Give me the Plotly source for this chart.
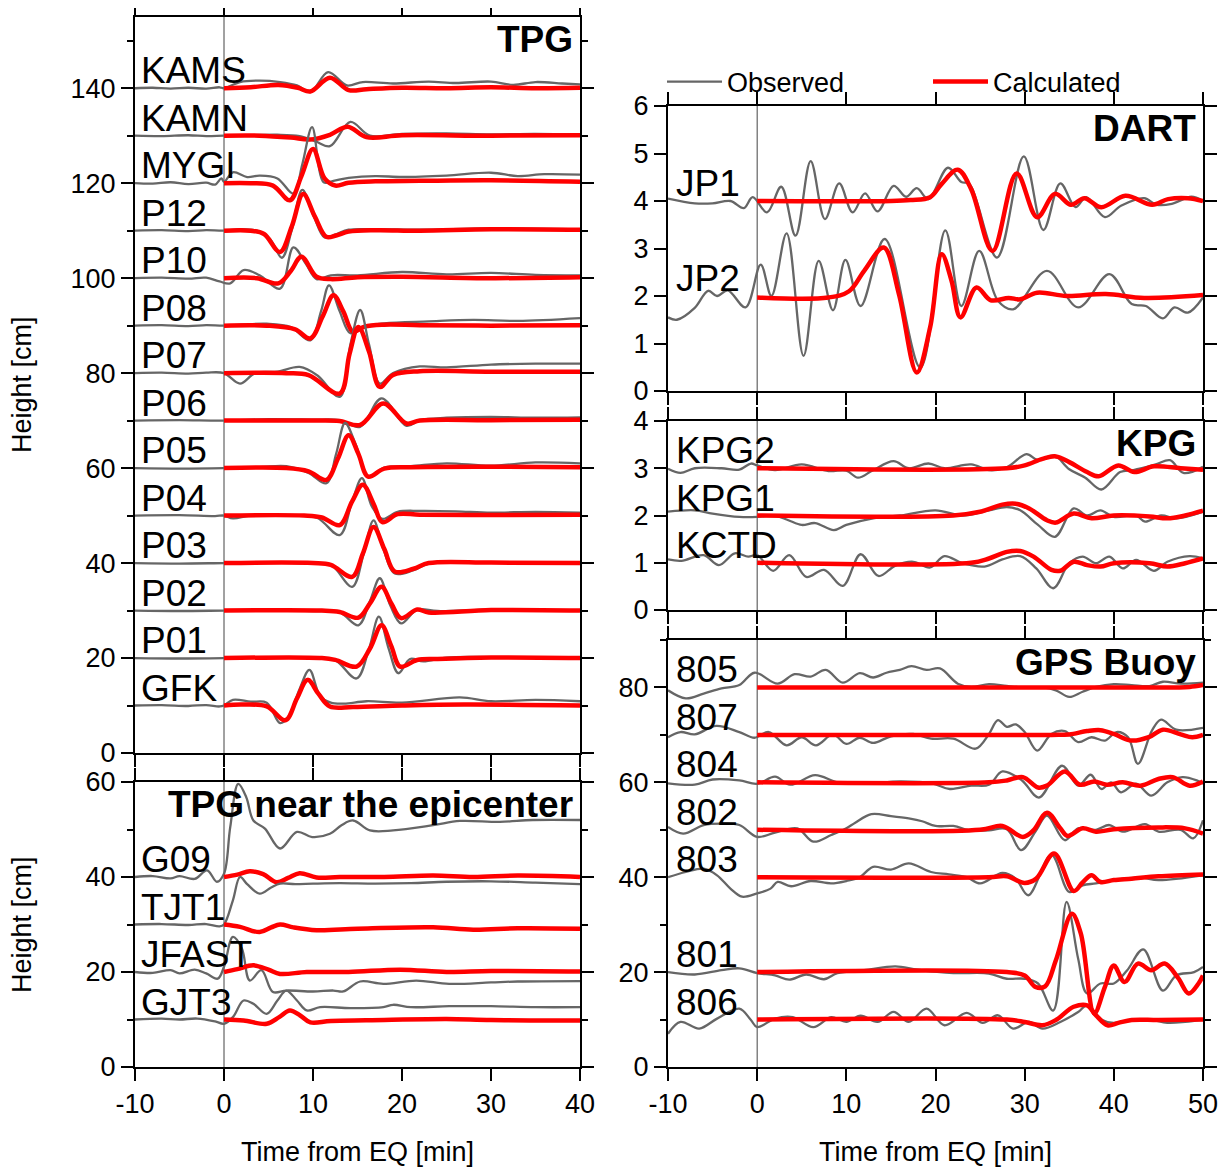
import plotly.graph_objects as go

W, H = 1230, 1171
OFF = 8                      # page body margin of the html page
FW, FH = W - OFF, H - OFF    # figure size so the page fills the window exactly
FONT = "Liberation Sans, Arial, Helvetica, sans-serif"
GRAY = "#666666"
RED = "#ff0000"

# ---------------- TPG (offshore pressure gauges) ----------------
KAMS_OBS = ([-10, -8, -6, -4, -2, -0.5, 0, 1.8, 4, 6.3, 8.2, 9.7, 11.7, 13.8, 15.6, 19, 23, 26, 30, 32.5, 35, 38, 40],
            [140, 140.1, 139.9, 140.1, 139.9, 140.2, 140, 141.3, 141.6, 141.3, 140.6, 139.2, 143.4, 140.6, 141.3, 141.0, 141.4, 141.1, 141.4, 140.7, 141.3, 141.0, 140.8])
KAMS_CAL = ([0, 3, 6.1, 8.3, 9.7, 11.9, 14.0, 16, 20, 25, 30, 35, 40],
            [140, 140.2, 140.7, 140.1, 139.3, 142.2, 139.6, 139.8, 140.1, 140.0, 140.2, 140.0, 140.1])
KAMN_OBS = ([-10, -7, -4, -2, 0, 3, 6, 8.5, 10.3, 11.9, 14.2, 16.4, 20, 25, 30, 35, 40],
            [130, 129.9, 130.1, 129.9, 130, 130.1, 130.2, 129.9, 128.8, 127.8, 132.9, 130.0, 130.4, 130.5, 130.3, 130.4, 130.2])
KAMN_CAL = ([0, 4, 7.5, 9.7, 11.9, 13.9, 16, 20, 30, 40],
            [130, 130, 129.6, 129.2, 130.2, 131.9, 129.7, 130.1, 130.0, 130.1])
MYGI_OBS = ([-10, -8, -6, -4, -2, -1, -0.3, 0, 1, 2.6, 4, 6, 7.8, 8.8, 9.9, 11.2, 12.3, 14, 17, 20, 25, 30, 33, 36, 40],
            [120, 119.9, 120.2, 119.8, 120.1, 119.7, 121, 120.3, 122.3, 121.3, 121.6, 121.0, 117.8, 124, 131.8, 120.2, 120.5, 121.1, 121.5, 121.3, 121.6, 122.2, 121.5, 121.9, 121.8])
MYGI_CAL = ([0, 3, 5.5, 7.4, 8.7, 10.0, 11.3, 12.5, 14, 17, 22, 30, 40],
            [120, 120, 119.5, 116.4, 121.5, 127.2, 121, 119.5, 120.1, 120.4, 120.5, 120.6, 120.3])
P12_OBS = ([-10, -7, -4, -2, 0, 2, 4, 5.2, 6.5, 7.6, 8.8, 10.1, 11.3, 12.5, 14, 17, 22, 30, 40],
           [110, 110.1, 109.9, 110.1, 110, 110.3, 109.8, 108.2, 104.3, 110, 118.6, 113, 108.6, 109.2, 110.2, 110.3, 110.2, 110.5, 110.3])
P12_CAL = ([0, 3, 4.5, 6.3, 7.6, 8.9, 10.2, 11.5, 12.6, 14, 17, 22, 30, 40],
           [110, 110, 109.3, 105.5, 110.8, 117.7, 113, 108.7, 109.0, 109.8, 110.1, 110.0, 110.3, 110.2])
P10_OBS = ([-10, -7, -4, -2, -0.5, 0.7, 2.2, 4, 6.3, 7.8, 9.2, 10.4, 12, 15, 20, 25, 30, 35, 40],
           [100, 100.1, 99.9, 100.1, 99.3, 98.9, 101.7, 100.6, 97.8, 106.5, 103.0, 99.8, 100.6, 100.6, 101.3, 100.8, 101.1, 100.7, 100.6])
P10_CAL = ([0, 3.7, 6.1, 7.5, 8.7, 10.4, 12, 15, 20, 30, 40],
           [100, 100, 98.9, 101.5, 104.5, 100.3, 99.8, 100.2, 100.3, 100.0, 100.2])
P08_OBS = ([-10, -7, -4, -2, 0, 2, 4.8, 7.5, 9.7, 10.9, 11.8, 13.0, 14.2, 15.6, 18, 23, 28, 33, 40],
           [90, 90.1, 89.9, 90.1, 90, 90.2, 90.4, 89.7, 86.9, 93, 98.5, 93, 88.4, 89.8, 90.5, 90.9, 91.2, 91.0, 91.6])
P08_CAL = ([0, 4.8, 8, 9.7, 11.1, 12.3, 13.4, 14.5, 15.8, 18, 22, 30, 40],
           [90, 90, 89.2, 87.3, 92, 96.4, 93, 88.7, 89.8, 90.2, 90.1, 90.0, 90.1])
P07_OBS = ([-10, -7, -4, -2, 0, 1.8, 3.5, 6, 8.5, 10.5, 13.0, 14.2, 15.3, 16.3, 17.5, 19, 22, 25, 30, 35, 40],
           [80, 80.1, 79.9, 80.1, 80, 77.8, 80, 80.3, 81.3, 79.5, 75.0, 86, 93.3, 86, 77.8, 80, 81.4, 81.2, 81.8, 82.0, 82.0])
P07_CAL = ([0, 7, 9.5, 13.0, 14.1, 15.1, 16.3, 17.5, 19, 22, 30, 40],
           [80, 80, 79.6, 75.7, 84, 89.7, 84.5, 77.1, 79.6, 80.4, 80.3, 80.3])
P06_OBS = ([-10, -5, 0, 5, 10, 13, 15.3, 17.7, 20.5, 22, 25, 30, 35, 40],
           [70, 70.1, 70, 70.3, 70.2, 70.1, 68.7, 74.7, 68.9, 70.1, 70.6, 70.8, 70.6, 70.7])
P06_CAL = ([0, 10, 13, 15.3, 17.9, 20.5, 22, 30, 40],
           [70, 70, 69.9, 69.1, 73.6, 69.4, 70.0, 70.1, 70.2])
P05_OBS = ([-10, -5, 0, 4, 7, 9.5, 11.5, 12.6, 13.6, 14.8, 16.2, 18, 21, 25, 30, 35, 40],
           [60, 59.9, 60, 60.2, 60.4, 59.0, 56.8, 63, 69.5, 65, 58.2, 60.1, 60.4, 61.0, 60.5, 61.2, 61.0])
P05_CAL = ([0, 7, 9.5, 11.5, 12.8, 14.0, 15.1, 16.2, 18, 21, 30, 40],
           [60, 60, 59.3, 57.5, 62, 66.9, 63, 58.2, 59.9, 60.2, 60.3, 60.2])
P04_OBS = ([-10, -5, -1, 0, 1, 3, 8, 10.5, 13, 14.4, 15.5, 16.6, 17.8, 19.5, 22, 26, 30, 35, 40],
           [50, 50.1, 49.9, 50, 49.4, 50, 50.1, 49.5, 45.9, 53, 57.9, 52, 49.3, 50.8, 51.0, 50.9, 50.6, 50.8, 50.6])
P04_CAL = ([0, 9, 11, 13, 14.4, 15.6, 16.8, 17.8, 19.5, 22, 30, 40],
           [50, 50, 49.6, 48.0, 53, 56.5, 52.5, 48.6, 50.3, 50.2, 50.1, 50.2])
P03_OBS = ([-10, -5, 0, 5, 10, 12, 14.4, 15.7, 16.8, 17.9, 19.2, 21.3, 23, 28, 35, 40],
           [40, 39.9, 40, 40.1, 39.9, 39.7, 35.0, 42, 49.0, 43, 37.8, 38.5, 39.9, 40.1, 40.2, 40.1])
P03_CAL = ([0, 10, 12, 14.4, 15.6, 16.8, 18, 19.2, 21.3, 23, 30, 40],
           [40, 40, 39.6, 37.1, 42, 47.6, 43, 38.2, 38.8, 40.0, 40.1, 40.0])
P02_OBS = ([-10, -5, 0, 5, 10, 13, 15.1, 16.4, 17.5, 18.7, 19.9, 21.7, 24, 30, 35, 40],
           [30, 29.9, 30, 30.1, 29.9, 29.6, 26.9, 32, 36.8, 31, 27.3, 30.2, 29.9, 30.2, 30.1, 30.0])
P02_CAL = ([0, 11, 13, 15.1, 16.4, 17.7, 18.8, 19.9, 21.7, 23, 30, 40],
           [30, 30, 29.7, 28.5, 31.5, 35.0, 31.5, 28.4, 30.2, 29.6, 30.1, 30.0])
P01_OBS = ([-10, -5, 0, 5, 10, 12.5, 14.9, 16.3, 17.4, 18.5, 19.6, 20.9, 22.4, 25, 30, 35, 40],
           [20, 19.9, 20, 20.2, 20, 19.5, 15.7, 22, 28.7, 22, 16.8, 19.8, 19.3, 20.1, 20.2, 20.1, 20.2])
P01_CAL = ([0, 11, 12.5, 14.9, 16.4, 17.7, 18.8, 19.8, 21.7, 24, 30, 40],
           [20, 20, 19.6, 18.2, 22, 26.9, 22.5, 18.2, 19.6, 19.8, 20.1, 20.0])
GFK_OBS = ([-10, -7, -4, -2, -0.5, 0, 1, 3, 4.8, 6.3, 7.2, 8.5, 9.6, 10.8, 12, 13.5, 16, 20, 26.5, 30, 35, 40],
           [10, 10.1, 9.9, 10.1, 9.8, 10, 11.2, 10.8, 10.6, 6.3, 7.5, 13.5, 17.5, 12, 10.6, 10.4, 10.9, 10.6, 11.7, 10.9, 11.2, 10.9])
GFK_CAL = ([0, 2, 4.8, 6.9, 8.2, 9.4, 10.6, 11.9, 14.5, 20, 27, 40],
           [10, 10.2, 9.8, 6.9, 11.5, 15.4, 12.5, 9.8, 9.7, 10.0, 10.2, 10.0])

TPG_NAMES = ["KAMS", "KAMN", "MYGI", "P12", "P10", "P08", "P07", "P06", "P05", "P04", "P03", "P02", "P01", "GFK"]
TPG_BASE = [140, 130, 120, 110, 100, 90, 80, 70, 60, 50, 40, 30, 20, 10]
TPG_OBS = [KAMS_OBS, KAMN_OBS, MYGI_OBS, P12_OBS, P10_OBS, P08_OBS, P07_OBS, P06_OBS, P05_OBS, P04_OBS, P03_OBS, P02_OBS, P01_OBS, GFK_OBS]
TPG_CAL = [KAMS_CAL, KAMN_CAL, MYGI_CAL, P12_CAL, P10_CAL, P08_CAL, P07_CAL, P06_CAL, P05_CAL, P04_CAL, P03_CAL, P02_CAL, P01_CAL, GFK_CAL]

# ---------------- TPG near the epicenter ----------------
G09_OBS = ([-10, -8, -6, -5, -3.3, -1.9, -0.8, 0, 0.7, 1.6, 2.5, 3.3, 4.6, 6.3, 8.2, 9.9, 11.9, 13.2, 14.5, 16.4, 19, 23.5, 26.5, 31, 34.7, 40],
           [40, 40.2, 39.7, 40.2, 39.6, 41.4, 39.0, 40.7, 50.5, 59.6, 56.8, 51.9, 50.2, 46.0, 49.5, 48.4, 49.1, 50.9, 51.9, 49.8, 49.8, 50.9, 51.8, 51.6, 52.0, 52.0])
G09_CAL = ([0, 1.5, 2.9, 4.4, 5.9, 7.2, 8.5, 10.4, 13, 18, 23.5, 28, 33, 40],
           [40, 40.5, 41.2, 40.6, 38.9, 39.8, 40.8, 39.9, 40.0, 40.0, 40.3, 40.0, 40.3, 40.0])
TJT1_OBS = ([-10, -7, -4, -2, -0.5, 0, 1.0, 1.8, 2.6, 4.0, 5.3, 6.3, 8, 10, 13, 17, 21, 25, 30, 35, 40],
            [30, 30.1, 29.9, 30.1, 29.6, 30, 35.1, 40.0, 38.5, 36.5, 37.8, 38.6, 38.5, 38.6, 38.7, 38.6, 38.7, 39.0, 39.1, 38.8, 38.5])
TJT1_CAL = ([0, 1.8, 4.0, 5.3, 6.3, 7.8, 10.4, 15, 23.5, 28, 33, 40],
            [30, 29.5, 28.4, 29.4, 30.0, 29.4, 28.8, 29.1, 29.4, 28.9, 29.2, 29.1])
JFAST_OBS = ([-10, -8, -6, -5, -3.3, -2, -0.7, 0, 1.0, 2.0, 2.9, 4.2, 5.5, 7.0, 10, 12.3, 13.4, 15.3, 17.9, 21.6, 25.3, 30, 33, 40],
             [20, 19.8, 20.4, 19.7, 20.5, 19.7, 18.6, 21.1, 27.4, 25, 18.2, 20.4, 15.8, 16.1, 15.9, 16.1, 15.9, 18.0, 17.5, 18.2, 17.5, 17.8, 18.0, 18.1])
JFAST_CAL = ([0, 1.5, 3.3, 5, 6.3, 9.3, 14, 19.8, 25, 30, 40],
             [20, 20.6, 21.4, 20.5, 19.6, 20.0, 20.0, 20.5, 20.0, 20.2, 20.1])
GJT3_OBS = ([-10, -7, -5, -3, -1, 0, 1, 2.2, 3.3, 4.8, 6.0, 7.0, 8.2, 9.3, 10.8, 14.2, 17.9, 19, 21, 25.3, 30, 35, 40],
            [10, 10.2, 10.0, 10.2, 9.6, 9.1, 10.5, 14.0, 13.3, 11.2, 14.0, 16.1, 14.0, 11.9, 12.6, 12.4, 12.6, 13.1, 12.6, 12.8, 12.8, 12.6, 12.6])
GJT3_CAL = ([0, 2.2, 4.8, 6.2, 7.4, 8.6, 9.7, 12, 18, 25, 30, 40],
            [10, 9.8, 9.1, 10.5, 11.9, 10.8, 9.4, 9.7, 9.9, 10.1, 9.9, 9.8])

EPI_NAMES = ["G09", "TJT1", "JFAST", "GJT3"]
EPI_BASE = [40, 30, 20, 10]
EPI_OBS = [G09_OBS, TJT1_OBS, JFAST_OBS, GJT3_OBS]
EPI_CAL = [G09_CAL, TJT1_CAL, JFAST_CAL, GJT3_CAL]

# ---------------- DART ----------------
JP1_OBS = ([-10, -7, -5, -3, -1.5, -0.5, 1.1, 2.7, 4.3, 6.0, 7.6, 9.2, 10.7, 12.1, 13.5, 15.3, 16.7, 17.9, 19.2, 21.4, 22.9, 23.8, 26.9, 29.9, 32.1, 34.0, 35.7, 36.9, 39.0, 40.8, 43.4, 44.8, 46.5, 48.7, 50],
           [4.05, 3.95, 3.95, 4.0, 3.85, 4.08, 3.76, 4.30, 3.27, 4.84, 3.62, 4.37, 3.76, 4.16, 3.78, 4.32, 4.09, 4.27, 4.04, 4.70, 4.40, 4.36, 2.81, 4.94, 3.39, 4.37, 3.87, 4.08, 3.66, 3.90, 4.06, 3.92, 3.94, 4.09, 4.0])
JP1_CAL = ([0, 15, 17.2, 19.4, 20.7, 22.5, 24.0, 26.4, 29.1, 31.4, 33.4, 35.2, 36.7, 38.6, 41.3, 44.3, 46.1, 48.3, 50],
           [4.0, 4.0, 4.02, 4.08, 4.36, 4.66, 4.25, 2.95, 4.58, 3.66, 4.15, 3.92, 4.06, 3.87, 4.11, 3.92, 4.04, 4.06, 4.0])
JP2_OBS = ([-10, -9, -7, -5.5, -4.5, -3.3, -1.3, 0.4, 1.6, 3.3, 5.2, 6.9, 8.5, 9.9, 11.6, 14.3, 18.3, 21.1, 22.9, 24.9, 27.0, 28.7, 32.5, 36.0, 39.5, 42.0, 43.6, 45.5, 46.8, 48.3, 50],
           [1.55, 1.5, 1.75, 2.11, 2.0, 2.12, 1.76, 2.66, 2.0, 3.32, 0.74, 2.74, 1.70, 2.76, 1.79, 3.20, 0.49, 3.38, 1.79, 2.95, 1.90, 1.72, 2.53, 1.76, 2.46, 1.83, 1.79, 1.53, 1.76, 1.65, 1.97])
JP2_CAL = ([0, 8, 10.3, 12.0, 14.2, 15.9, 17.9, 19.4, 20.7, 21.8, 22.8, 24.6, 26.2, 28.2, 29.5, 31.4, 34.7, 39.1, 43.4, 50],
           [1.97, 1.97, 2.1, 2.53, 3.02, 2.04, 0.39, 1.34, 2.88, 2.32, 1.55, 2.18, 1.91, 1.96, 1.93, 2.07, 2.0, 2.04, 1.96, 2.02])

DART_NAMES = ["JP1", "JP2"]
DART_BASE = [4, 2]
DART_OBS = [JP1_OBS, JP2_OBS]
DART_CAL = [JP1_CAL, JP2_CAL]

# ---------------- KPG ----------------
KPG2_OBS = ([-10, -8.6, -7, -4, -2, -0.7, 0, 2, 5, 8, 10, 11.3, 13, 15.3, 17, 19.2, 21, 24, 26, 28, 30.2, 31.5, 33.3, 35, 36.8, 38.6, 40.7, 42.2, 44.7, 46.3, 47.8, 50],
            [2.99, 2.90, 3.0, 3.0, 2.97, 3.1, 3.06, 2.96, 3.08, 2.94, 2.95, 2.80, 2.96, 3.15, 3.0, 3.10, 3.0, 3.08, 2.96, 3.02, 3.30, 3.17, 3.27, 2.98, 2.80, 2.55, 2.92, 2.96, 3.08, 3.17, 2.90, 3.03])
KPG2_CAL = ([0, 28, 30, 32, 33.5, 35, 37, 38.3, 40.5, 42.3, 44.5, 47.5, 50],
            [3.0, 3.0, 3.06, 3.20, 3.25, 3.13, 2.92, 2.83, 3.06, 2.92, 3.04, 3.0, 2.97])
KPG1_OBS = ([-10, -7, -5, -2, 0, 2, 3.5, 5, 6.5, 8.6, 10, 13, 16, 20, 23, 26, 28, 29.5, 31.5, 33.4, 35.5, 37, 38.5, 40, 42.5, 43.5, 45.3, 47, 50],
            [2.08, 2.11, 2.04, 1.97, 1.97, 2.0, 1.90, 1.80, 1.84, 1.69, 1.80, 1.94, 2.0, 2.11, 2.0, 2.11, 2.18, 2.11, 1.80, 1.55, 2.15, 2.0, 2.11, 1.97, 2.0, 1.87, 2.0, 1.94, 2.08])
KPG1_CAL = ([0, 22, 25, 27.5, 29, 30.5, 32.5, 33.5, 35.5, 37.5, 40, 44, 46, 48, 50],
            [2.0, 2.0, 2.08, 2.23, 2.25, 2.15, 1.90, 1.85, 2.04, 1.94, 2.0, 1.98, 1.94, 2.0, 2.1])
KCTD_OBS = ([-10, -8.5, -6, -4.3, -2.5, -1, 0, 1.8, 3.6, 5.5, 7.5, 9.6, 11.6, 13.6, 15.5, 17.5, 19.4, 21, 23, 25.5, 27.5, 29.5, 31.3, 33.2, 35, 36.5, 38, 39.5, 41, 42.5, 44.5, 46, 48.5, 50],
            [1.07, 1.04, 1.16, 0.95, 1.20, 1.13, 1.16, 0.83, 1.16, 0.70, 0.85, 0.51, 1.18, 0.72, 0.94, 1.02, 0.90, 1.14, 0.99, 0.92, 1.07, 1.14, 0.88, 0.46, 0.99, 1.13, 0.99, 1.13, 0.88, 1.06, 0.83, 1.02, 1.14, 1.09])
KCTD_CAL = ([0, 24, 26, 28, 29.5, 31, 33, 34, 35.5, 37, 38.5, 40, 44, 46, 48, 50],
            [1.0, 1.0, 1.09, 1.23, 1.25, 1.13, 0.85, 0.83, 1.02, 0.95, 0.92, 0.99, 0.99, 0.92, 0.99, 1.09])

KPG_NAMES = ["KPG2", "KPG1", "KCTD"]
KPG_BASE = [3, 2, 1]
KPG_OBS = [KPG2_OBS, KPG1_OBS, KCTD_OBS]
KPG_CAL = [KPG2_CAL, KPG1_CAL, KCTD_CAL]

# ---------------- GPS Buoy ----------------
B805_OBS = ([-10, -8, -6, -4, -2, -0.3, 2.3, 4.2, 6, 7.7, 9.6, 11.5, 13, 14.5, 16, 17.3, 19, 20.5, 22.5, 24, 26, 28, 30, 32, 33.5, 35, 36.5, 38, 40, 42, 44, 45.5, 47.5, 50],
            [79.4, 77.7, 78.7, 79.8, 80.5, 83.1, 80.8, 82.8, 82.3, 83.7, 81.0, 83.0, 82.1, 83.1, 83.7, 84.5, 83.7, 84.0, 80.8, 80.1, 80.7, 80.3, 80.0, 80.0, 79.4, 78.0, 79.1, 80.1, 80.7, 80.5, 80.3, 81.2, 80.8, 81.0])
B805_CAL = ([0, 20, 40, 47, 48.5, 50], [80, 80, 80, 80, 80.1, 80.5])
B807_OBS = ([-10, -8.6, -7, -4.6, -2, -0.3, 1.3, 3.3, 5, 6.6, 8.5, 10, 11.5, 13, 15, 17.5, 19.5, 22, 24.5, 26, 27, 28, 29, 30, 31.4, 33, 34.5, 36, 37.5, 39, 40.3, 41.6, 42.7, 44.3, 45.3, 47, 50],
            [69.5, 70.6, 70.1, 71.9, 70.6, 69.4, 70.6, 67.8, 69.5, 67.8, 70.1, 68.1, 69.4, 68.3, 69.7, 70.2, 69.2, 69.2, 67.1, 70.2, 73.1, 71.7, 72.2, 70.6, 66.7, 70.2, 70.8, 68.5, 69.5, 68.8, 70.6, 69.5, 63.9, 71.0, 73.2, 71.1, 71.5])
B807_CAL = ([0, 33, 35, 37, 38.5, 40, 42, 44, 45.5, 47.5, 48.8, 50],
            [70, 70, 70.1, 70.8, 71.0, 70.2, 68.8, 69.6, 71.1, 70.1, 69.5, 70.0])
B804_OBS = ([-10, -7, -5, -2, 0, 2, 3.7, 6.5, 9, 12, 16, 19.6, 21.6, 24, 26, 27.5, 29.7, 31.6, 34.2, 36, 37.4, 38.6, 39.7, 40.8, 42.5, 44.2, 46, 47.7, 49.3, 50],
            [59.8, 59.5, 60.6, 60.4, 59.7, 61.2, 59.5, 61.5, 60.0, 59.7, 60.2, 59.8, 58.6, 59.3, 59.5, 62.3, 60.4, 56.8, 63.5, 59.3, 61.6, 58.6, 60.0, 57.9, 59.7, 57.2, 60.0, 61.1, 60.4, 59.7])
B804_CAL = ([0, 26, 28, 29.8, 31.5, 32.5, 34.5, 36.2, 37.8, 39.2, 41, 43, 45, 46.6, 48.5, 50],
            [60, 60, 60.4, 61.1, 58.9, 59.3, 62.3, 59.5, 60.2, 59.5, 60.0, 59.3, 60.7, 61.1, 59.3, 60.2])
B802_OBS = ([-10, -8.3, -6, -4, -2, 0, 2, 4.5, 6.3, 8.3, 10, 11, 12.8, 15, 17, 18.5, 20, 22, 24, 26, 28, 29.6, 31.3, 32.5, 34.5, 36, 38, 39.5, 41, 43.5, 45, 47.5, 48.9, 50],
            [50.6, 49.2, 51.0, 51.3, 51.0, 48.5, 49.4, 50.3, 47.5, 48.9, 50.3, 51.5, 53.3, 52.9, 52.4, 51.8, 50.8, 50.8, 49.8, 49.9, 50.1, 45.7, 49.9, 53.0, 47.8, 50.3, 50.0, 51.0, 49.6, 51.2, 49.6, 50.0, 48.2, 52.0])
B802_CAL = ([0, 25, 27.5, 29.8, 31, 32.5, 34, 34.8, 36.5, 38, 40, 45, 48, 50],
            [50, 50, 50.8, 48.5, 49.9, 53.6, 50.3, 48.7, 50.3, 49.6, 50.1, 50.5, 50.3, 49.2])
B803_OBS = ([-10, -8, -6, -4.5, -3, -1.7, 0, 1.5, 2.3, 3.8, 6, 8.3, 10, 11.5, 13, 15, 17, 19.5, 21.5, 23.5, 25, 27.5, 29, 30.4, 33, 35, 36.5, 38, 40, 43, 45, 50],
            [40.0, 41.1, 41.8, 40.4, 37.6, 35.9, 36.6, 37.6, 39.0, 38.1, 39.2, 38.7, 39.2, 40.0, 42.2, 41.6, 42.9, 41.1, 40.6, 40.0, 38.7, 40.9, 39.7, 36.2, 44.7, 36.9, 38.3, 38.7, 39.4, 39.9, 39.4, 40.4])
B803_CAL = ([0, 26, 28, 30, 31.3, 33.3, 35.5, 36.5, 37.5, 38.5, 40, 42, 45, 50],
            [40, 40, 40.2, 38.8, 39.7, 45.0, 37.1, 38.9, 40.4, 39.0, 39.4, 39.7, 40.2, 40.6])
B801_OBS = ([-10, -7, -4, -2, 0, 2, 3.6, 5.5, 7.5, 9, 12, 15.5, 18, 22, 26, 28, 30, 31.5, 33.2, 34.7, 36, 37, 38.5, 40, 41.5, 43.3, 45.5, 47, 49, 50],
            [20, 19.5, 20.4, 20.8, 19.8, 19.3, 18.4, 19.5, 18.5, 19.8, 20.4, 21.2, 20.5, 19.8, 19.7, 18.6, 18.6, 17.6, 11.9, 34.8, 22.8, 15.5, 17.6, 17.6, 20.4, 24.8, 16.1, 19.3, 20.0, 21.1])
B801_CAL = ([0, 28, 30, 31.2, 32.3, 33.5, 35.3, 36.3, 37.8, 39, 40, 41.2, 42.7, 44.2, 45.7, 47.2, 48.4, 49.5, 50],
            [20, 20, 19.3, 16.9, 17.0, 22.5, 32.3, 28.1, 11.3, 16.9, 21.4, 17.9, 21.8, 20.4, 21.8, 18.8, 15.5, 17.6, 19.3])
B806_OBS = ([-10, -8.6, -6.5, -4.5, -2, -0.7, 0, 2, 4, 6.3, 8.3, 10, 11.6, 13.5, 15.3, 17, 19, 21, 23.5, 25.3, 27, 28.7, 30.5, 32, 34, 36, 37, 38.7, 40, 42, 44, 46, 48, 50],
            [7.0, 9.5, 8.1, 10.2, 12.3, 9.9, 8.4, 10.2, 10.5, 8.4, 10.5, 9.5, 10.8, 9.5, 11.6, 9.5, 12.3, 8.8, 11.4, 9.3, 10.9, 8.1, 9.5, 8.1, 9.5, 11.6, 13.0, 9.9, 9.3, 9.9, 10.0, 9.3, 9.5, 10.0])
B806_CAL = ([0, 28, 30, 32, 33.5, 35.5, 37, 38, 39.3, 40.5, 42, 45, 50],
            [10, 10, 9.5, 8.8, 9.9, 12.7, 13.0, 10.9, 8.8, 9.3, 9.9, 9.9, 10.0])

GPS_NAMES = ["805", "807", "804", "802", "803", "801", "806"]
GPS_BASE = [80, 70, 60, 50, 40, 20, 10]
GPS_OBS = [B805_OBS, B807_OBS, B804_OBS, B802_OBS, B803_OBS, B801_OBS, B806_OBS]
GPS_CAL = [B805_CAL, B807_CAL, B804_CAL, B802_CAL, B803_CAL, B801_CAL, B806_CAL]

X_TICKS_L = [-10, 0, 10, 20, 30, 40]
X_LABELS_L = ["-10", "0", "10", "20", "30", "40"]
X_TICKS_R = [-10, 0, 10, 20, 30, 40, 50]
X_LABELS_R = ["-10", "0", "10", "20", "30", "40", "50"]


# ---------------- layout helpers (window pixels -> paper fractions) ----------------
def px(xp):
    return (xp - OFF) / FW


def py(yp):
    return 1 - (yp - OFF) / FH


def xdom(a, b):
    return [px(a), px(b)]


def ydom(top, bottom):
    return [py(bottom), py(top)]


PANELS = [
    dict(n=1, xd=xdom(135, 580), yd=ydom(17, 753), xr=[-10, 40], xt=X_TICKS_L, xl=X_LABELS_L, yr=[0, 155],
         yt=list(range(0, 141, 20)), minor=10, xlab=False, title="TPG",
         names=TPG_NAMES, base=TPG_BASE, obs=TPG_OBS, cal=TPG_CAL, lx=-9.5),
    dict(n=2, xd=xdom(135, 580), yd=ydom(782, 1067), xr=[-10, 40], xt=X_TICKS_L, xl=X_LABELS_L, yr=[0, 60],
         yt=[0, 20, 40, 60], minor=10, xlab=True, title="TPG near the epicenter",
         names=EPI_NAMES, base=EPI_BASE, obs=EPI_OBS, cal=EPI_CAL, lx=-9.5),
    dict(n=3, xd=xdom(668, 1203), yd=ydom(106, 391), xr=[-10, 50], xt=X_TICKS_R, xl=X_LABELS_R, yr=[0, 6],
         yt=[0, 1, 2, 3, 4, 5, 6], minor=None, xlab=False, title="DART",
         names=DART_NAMES, base=DART_BASE, obs=DART_OBS, cal=DART_CAL, lx=-9.35),
    dict(n=4, xd=xdom(668, 1203), yd=ydom(421, 610), xr=[-10, 50], xt=X_TICKS_R, xl=X_LABELS_R, yr=[0, 4],
         yt=[0, 1, 2, 3, 4], minor=None, xlab=False, title="KPG",
         names=KPG_NAMES, base=KPG_BASE, obs=KPG_OBS, cal=KPG_CAL, lx=-9.35),
    dict(n=5, xd=xdom(668, 1203), yd=ydom(640, 1067), xr=[-10, 50], xt=X_TICKS_R, xl=X_LABELS_R, yr=[0, 90],
         yt=[0, 20, 40, 60, 80], minor=10, xlab=True, title="GPS Buoy",
         names=GPS_NAMES, base=GPS_BASE, obs=GPS_OBS, cal=GPS_CAL, lx=-9.35),
]

fig = go.Figure()
layout = dict(
    width=FW, height=FH, margin=dict(l=0, r=0, t=0, b=0, autoexpand=False),
    paper_bgcolor="white", plot_bgcolor="white",
    font=dict(family=FONT, size=27, color="black"),
    showlegend=True,
    legend=dict(orientation="h", x=px(662), xanchor="left", y=py(82), yanchor="middle",
                font=dict(size=27, family=FONT), entrywidth=196, entrywidthmode="pixels",
                itemwidth=55, bgcolor="rgba(0,0,0,0)", borderwidth=0, traceorder="normal"),
)
annotations = []
shapes = []
legend_done = {"obs": False, "cal": False}

for p in PANELS:
    n = p["n"]
    sfx = "" if n == 1 else str(n)
    xa, ya = "x" + sfx, "y" + sfx
    axis_common = dict(showline=True, linewidth=2, linecolor="black", mirror="ticks",
                       ticks="outside", ticklen=12, tickwidth=2, tickcolor="black",
                       showgrid=False, zeroline=False, automargin=False,
                       tickfont=dict(size=27, family=FONT, color="black"))
    layout["xaxis" + sfx] = dict(axis_common, domain=p["xd"], range=p["xr"], anchor=ya,
                                 tickmode="array", tickvals=p["xt"], ticktext=p["xl"],
                                 showticklabels=p["xlab"])
    ymore = dict(axis_common, domain=p["yd"], range=p["yr"], anchor=xa,
                 tickmode="array", tickvals=p["yt"])
    if p["minor"]:
        ymore["minor"] = dict(dtick=p["minor"], tick0=0, ticks="outside", ticklen=6,
                              tickwidth=2, tickcolor="black", showgrid=False)
    layout["yaxis" + sfx] = ymore

    # zero-time line
    shapes.append(dict(type="line", xref=xa, yref=ya + " domain", x0=0, x1=0, y0=0, y1=1,
                       line=dict(color="#444444", width=1), layer="below"))

    for name, b, o, c in zip(p["names"], p["base"], p["obs"], p["cal"]):
        fig.add_trace(go.Scatter(x=o[0], y=o[1], xaxis=xa, yaxis=ya, mode="lines",
                                 line=dict(color=GRAY, width=2.3, shape="spline", smoothing=1.0),
                                 name="Observed", showlegend=not legend_done["obs"],
                                 hoverinfo="skip"))
        legend_done["obs"] = True
        fig.add_trace(go.Scatter(x=c[0], y=c[1], xaxis=xa, yaxis=ya, mode="lines",
                                 line=dict(color=RED, width=4.5, shape="spline", smoothing=1.0),
                                 name="Calculated", showlegend=not legend_done["cal"],
                                 hoverinfo="skip"))
        legend_done["cal"] = True
        annotations.append(dict(x=p["lx"], y=b, xref=xa, yref=ya, text=name, showarrow=False,
                                xanchor="left", yanchor="bottom", yshift=-5,
                                font=dict(size=37, family=FONT, color="black")))

    annotations.append(dict(x=1, y=1, xref=xa + " domain", yref=ya + " domain",
                            text="<b>" + p["title"] + "</b>", showarrow=False,
                            xanchor="right", yanchor="top", xshift=-5, yshift=0,
                            font=dict(size=37, family=FONT, color="black")))

# axis titles
for yc in (385, 925):
    annotations.append(dict(x=px(22), y=py(yc), xref="paper", yref="paper", text="Height [cm]",
                            textangle=-90, showarrow=False, xanchor="center", yanchor="middle",
                            font=dict(size=27, family=FONT)))
for xc in (357, 935):
    annotations.append(dict(x=px(xc), y=py(1152), xref="paper", yref="paper",
                            text="Time from EQ [min]", showarrow=False, xanchor="center",
                            yanchor="middle", font=dict(size=27, family=FONT)))

layout["annotations"] = annotations
layout["shapes"] = shapes
fig.update_layout(**layout)
fig.write_html("out.html")
